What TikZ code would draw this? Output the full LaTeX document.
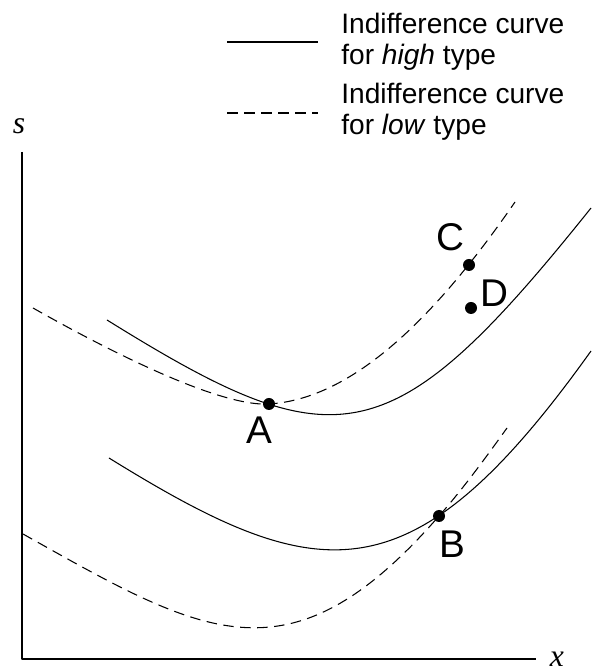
\documentclass[tikz,border=0pt]{standalone}
\usepackage{fontspec}
\setmainfont{Liberation Sans}
\newfontfamily\axisfont{Liberation Serif}

\begin{document}
\begin{tikzpicture}[x=0.2mm,y=0.2mm,line join=round,
  curve/.style={line width=0.6pt},
  lowcurve/.style={curve,dash pattern=on 2.1mm off 1.3mm},
  legtext/.style={anchor=west,inner sep=0pt,align=left,font=\fontsize{16}{17.5}\selectfont},
  ptlabel/.style={inner sep=0pt,font=\fontsize{22}{26}\selectfont},
  axlabel/.style={inner sep=0pt,font=\fontsize{18}{21}\selectfont\axisfont\itshape}]
\useasboundingbox (0,0) rectangle (591,671);
% axes
\coordinate (O) at (22,12);
\coordinate (ytop) at (22,519);
\coordinate (xend) at (536,12);
\draw[line width=0.9pt] (ytop) -- (O) -- (xend);
\node[axlabel] (s) at (19,545) {s};
\node[axlabel] (x) at (557,12) {x};
% legend
\coordinate (hi1) at (227,629);
\coordinate (hi2) at (318,629);
\coordinate (lo1) at (227,558);
\coordinate (lo2) at (318,558);
\draw[curve] (hi1) -- (hi2);
\draw[lowcurve] (lo1) -- (lo2);
\node[legtext] (hitext) at (341,629) {Indifference curve\\for \textit{high} type};
\node[legtext] (lotext) at (341,559) {Indifference curve\\for \textit{low} type};
% points
\coordinate (A) at (269,267);
\coordinate (B) at (439,155);
\coordinate (C) at (469,406);
\coordinate (D) at (471,363);
% upper pair of curves, through A
\draw[curve] (107,351) .. controls (337,208) and (391,213) .. (591,463);
\draw[lowcurve] (33,363) .. controls (93,329) and (215,264) .. (A)
  .. controls (351,272) and (433,350) .. (515,469);
% lower pair of curves, through B
\draw[curve] (109,213) .. controls (319,83) and (411,68) .. (591,320);
\draw[lowcurve] (23,137) .. controls (203,36) and (289,-17) .. (B)
  .. controls (462,181) and (484,211) .. (507,243);
\foreach \p in {A,B,C,D}
  \fill (\p) circle (1.2mm);
\node[ptlabel] (labA) at (259,241) {A};
\node[ptlabel] (labB) at (452,127) {B};
\node[ptlabel] (labC) at (450,434) {C};
\node[ptlabel] (labD) at (494,378) {D};
\end{tikzpicture}
\end{document}
